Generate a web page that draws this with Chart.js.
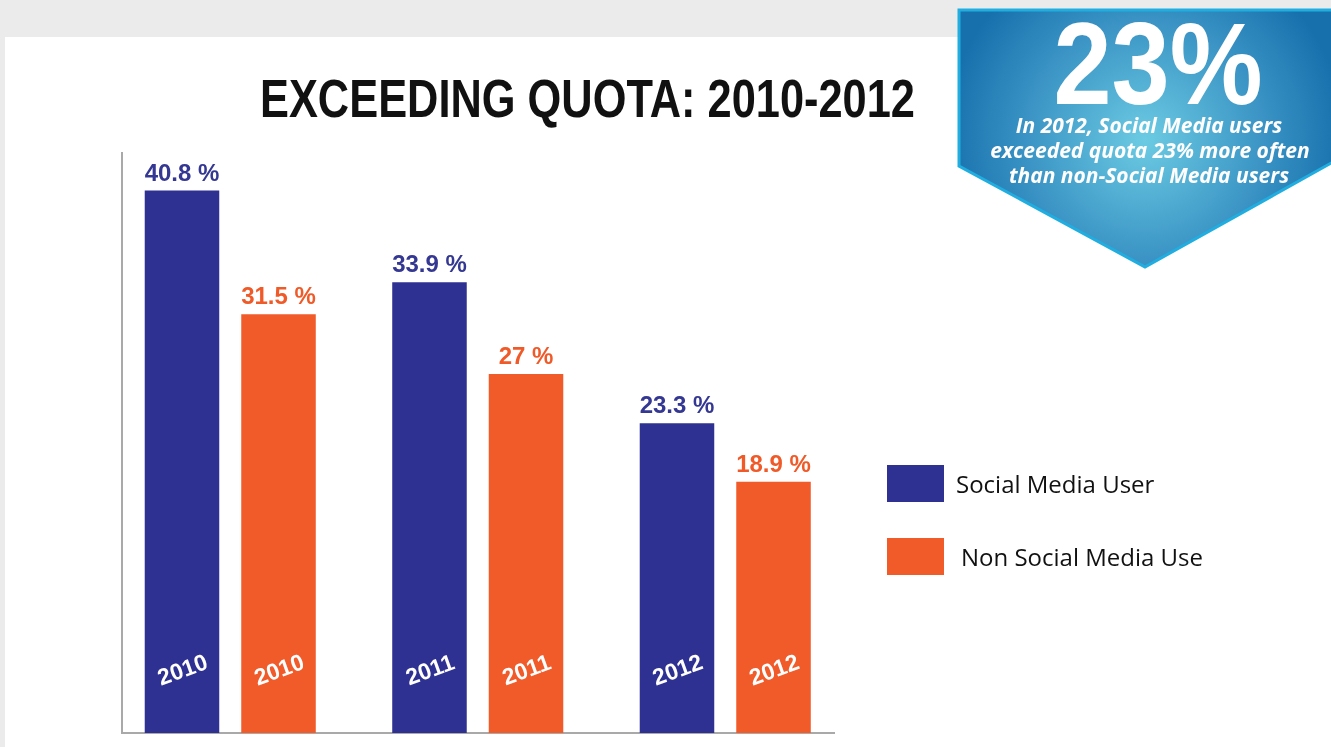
<!DOCTYPE html>
<html>
<head>
<meta charset="utf-8">
<script src="https://cdn.jsdelivr.net/npm/chart.js@4.4.1/dist/chart.umd.min.js"></script>
<style>
  html,body{margin:0;padding:0;}
  body{width:1331px;height:747px;background:#ebebeb;position:relative;overflow:hidden;font-family:"Liberation Sans",Arial,sans-serif;}
  #panel{position:absolute;left:5px;top:37px;width:1326px;height:710px;background:#fff;}
  #chart{position:absolute;left:0;top:0;}
  #title{position:absolute;left:260px;top:72px;font:bold 53px "Liberation Sans",Arial,sans-serif;color:#111;white-space:nowrap;transform-origin:0 0;line-height:53px;}
  #badge{position:absolute;left:0;top:0;width:1331px;height:300px;pointer-events:none;}
  .legend{position:absolute;display:flex;align-items:center;font-family:"Open Sans",sans-serif;font-size:24px;color:#111;}
  .legend .box{width:57px;height:37px;margin-right:12px;}
</style>
</head>
<body>
<div id="panel"></div>
<canvas id="chart" width="1331" height="747"></canvas>
<div id="title">EXCEEDING QUOTA: 2010-2012</div>
<svg id="badge" width="1331" height="300" xmlns="http://www.w3.org/2000/svg">
  <defs>
    <radialGradient id="bg" cx="1145" cy="140" r="200" gradientUnits="userSpaceOnUse">
      <stop offset="0" stop-color="#6ccbe3"/>
      <stop offset="0.6" stop-color="#3a93c4"/>
      <stop offset="1" stop-color="#1770ac"/>
    </radialGradient>
  </defs>
  <polygon points="959,10 1333,10 1333,162 1145,267 959,166" fill="url(#bg)" stroke="#20aee0" stroke-width="3"/>
  <text x="1158" y="104" text-anchor="middle" fill="#fff" font-family="Liberation Sans, Arial, sans-serif" font-weight="bold" font-size="116" transform="translate(1158 0) scale(0.9 1) translate(-1158 0)">23%</text>
  <g fill="#fff" font-family="Open Sans, sans-serif" font-weight="bold" font-style="italic" font-size="21" text-anchor="middle">
    <text x="1149" y="133">In 2012, Social Media users</text>
    <text x="1150" y="158">exceeded quota 23% more often</text>
    <text x="1149" y="183">than non-Social Media users</text>
  </g>
</svg>
<div class="legend" style="left:887px;top:465px;"><div class="box" style="background:#2e3192"></div><span>Social Media User</span></div>
<div class="legend" style="left:887px;top:538px;"><div class="box" style="background:#f15a29;margin-right:17px"></div><span>Non Social Media Use</span></div>
<script>
const categories = ["2010", "2011", "2012"];
const socialMediaUser = [40.8, 33.9, 23.3];
const nonSocialMediaUser = [31.5, 27, 18.9];
const seriesNames = ["Social Media User", "Non Social Media Use"];

const BLUE = "#2e3192", ORANGE = "#f15a29";

(function(){
  const t = document.getElementById('title');
  const w = t.getBoundingClientRect().width;
  t.style.transform = 'scaleX(' + (655 / w) + ')';
})();

const overlay = {
  id: 'overlay',
  beforeDatasetsDraw(chart) {
    const {ctx, chartArea} = chart;
    ctx.save();
    ctx.strokeStyle = '#a9a9a9';
    ctx.lineWidth = 2;
    ctx.beginPath();
    const ax = chartArea.left + 15.5;
    ctx.moveTo(ax, chartArea.top);
    ctx.lineTo(ax, chartArea.bottom);
    ctx.lineTo(chartArea.right - 14, chartArea.bottom);
    ctx.stroke();
    ctx.restore();
  },
  afterDatasetsDraw(chart) {
    const {ctx, chartArea} = chart;
    ctx.save();
    chart.data.datasets.forEach((ds, di) => {
      const meta = chart.getDatasetMeta(di);
      meta.data.forEach((bar, i) => {
        const v = ds.data[i];
        ctx.fillStyle = di === 0 ? '#343892' : '#f05a28';
        ctx.font = 'bold 24px "Liberation Sans", Arial, sans-serif';
        ctx.textAlign = 'center';
        ctx.textBaseline = 'alphabetic';
        ctx.fillText(v + ' %', bar.x, bar.y - 10);
        ctx.save();
        ctx.translate(bar.x + 1, chartArea.bottom - 62);
        ctx.rotate(-20 * Math.PI / 180);
        ctx.fillStyle = '#ffffff';
        ctx.font = 'bold 23px "Liberation Sans", Arial, sans-serif';
        ctx.textBaseline = 'middle';
        ctx.fillText(categories[i], 0, 0);
        ctx.restore();
      });
    });
    ctx.restore();
  }
};

new Chart(document.getElementById('chart'), {
  type: 'bar',
  data: {
    labels: categories,
    datasets: [
      {label: seriesNames[0], data: socialMediaUser, backgroundColor: BLUE},
      {label: seriesNames[1], data: nonSocialMediaUser, backgroundColor: ORANGE}
    ]
  },
  options: {
    responsive: false,
    animation: false,
    layout: {padding: {left: 106.5, right: 482, top: 152, bottom: 14}},
    categoryPercentage: 0.78,
    barPercentage: 0.772,
    plugins: {legend: {display: false}, tooltip: {enabled: false}, title: {display: false}},
    scales: {
      x: {display: false},
      y: {display: false, min: 0, max: 43.7}
    }
  },
  plugins: [overlay]
});
</script>
</body>
</html>
